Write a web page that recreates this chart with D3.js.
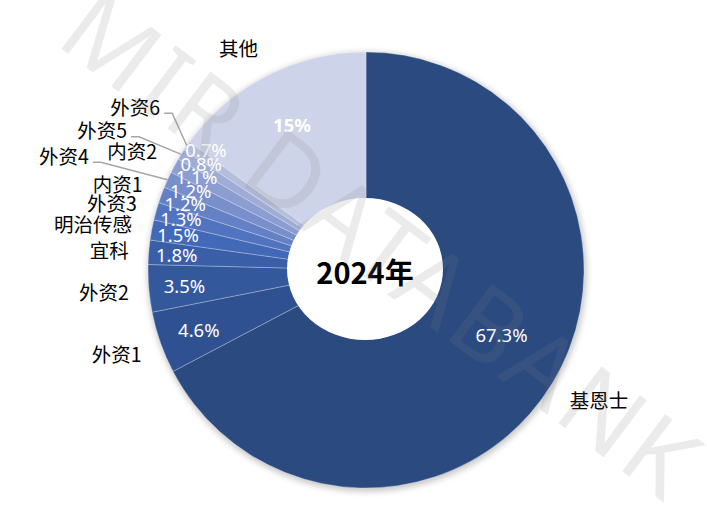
<!DOCTYPE html>
<html><head><meta charset="utf-8">
<script src="https://cdn.jsdelivr.net/npm/d3@7"></script>
<style>body{margin:0;background:#fff}svg{display:block}</style></head>
<body>
<svg id="c" width="707" height="518"></svg>
<script>
// ---- data ----
const categories = ["基恩士","外资1","外资2","宜科","明治传感","外资3","内资1","外资4","内资2","外资5","外资6","其他"];
const shares = [67.3,4.6,3.5,1.8,1.5,1.3,1.2,1.2,1.1,0.8,0.7,15];
const shareLabels = ["67.3%","4.6%","3.5%","1.8%","1.5%","1.3%","1.2%","1.2%","1.1%","0.8%","0.7%","15%"];
const sliceColors = ["#2b4a80","#2f5191","#33589c","#3a5fa8","#4169b8","#5174c0","#6581c6","#788fcb","#8c9ed1","#9facd6","#b3bddc","#cdd3e8"];
const centerLabel = "2024年";
const watermark = "MIR DATABANK";

// ---- layout ----
const W = 707, H = 518, cx = 366, cy = 270, R = 218;
const holeRx = 78, holeRy = 71;
const nameR = 238;
// labels moved out with leader lines: [radius, angle in degrees]
const leaderPlacement = {"外资4":[300,292.5],"外资5":[277,300.4],"外资6":[263,308.5]};

const svg = d3.select("#c");
const defs = svg.append("defs");
const f = defs.append("filter").attr("id","sh").attr("x","-20%").attr("y","-20%").attr("width","140%").attr("height","140%");
f.append("feGaussianBlur").attr("stdDeviation",3);

const data = categories.map((c,i)=>({cat:c, v:shares[i], lab:shareLabels[i], col:sliceColors[i]}));
const pie = d3.pie().value(d=>d.v).sort(null);
const arcs = pie(data);
const arc = d3.arc().innerRadius(0).outerRadius(R);
const polar = (r,a)=>[cx + r*Math.sin(a), cy - r*Math.cos(a)];

const g = svg.append("g");
// shadow
g.append("circle").attr("cx",cx+1).attr("cy",cy+2).attr("r",R+1.5)
  .attr("fill","#000").attr("opacity",0.22).attr("filter","url(#sh)");

g.append("g").attr("transform",`translate(${cx},${cy})`)
 .selectAll("path").data(arcs).join("path")
 .attr("d",arc).attr("fill",d=>d.data.col)
 .attr("stroke","rgba(255,255,255,0.35)").attr("stroke-width",0.8);

// hole
g.append("ellipse").attr("cx",cx-1).attr("cy",cy-1).attr("rx",holeRx).attr("ry",holeRy).attr("fill","#fff");

g.append("text").attr("x",cx-1).attr("y",cy+1).attr("text-anchor","middle").attr("dominant-baseline","central")
 .attr("font-family","'Noto Sans CJK SC','Noto Sans',sans-serif").attr("font-weight","bold")
 .attr("font-size",29).attr("fill","#000").text(centerLabel);

// percent labels
const pct = arcs.map(d=>{
  const a = (d.startAngle+d.endAngle)/2;
  let r, sh = 0;
  if (d.data.v >= 10) { r = d.data.v > 50 ? 150 : 163; sh = d.data.v > 50 ? -0.1 : 0; }
  else r = 198 - 4.5*d.data.v;
  const p = polar(r, a+sh);
  return {d, x:p[0], y:p[1]};
});
// vertical spacing for small slices on the left (bottom to top)
const small = pct.filter(p=>p.d.data.v<10);
for (let i=1;i<small.length;i++){
  if (small[i-1].y - small[i].y < 13.5) small[i].y = small[i-1].y - 13.5;
}
g.append("g").selectAll("text").data(pct).join("text")
 .attr("x",p=>p.x).attr("y",p=>p.y).attr("text-anchor","middle").attr("dominant-baseline","central")
 .attr("font-family","'Noto Sans','Noto Sans CJK SC',sans-serif").attr("font-size",18.5)
 .attr("font-weight",p=>p.d.data.cat==="其他"?"bold":"normal")
 .attr("fill","#fff").text(p=>p.d.data.lab);

// name labels
const nameG = g.append("g").attr("font-family","'Noto Sans CJK SC',sans-serif").attr("font-size",19.5).attr("fill","#000");
arcs.forEach(d=>{
  const a = (d.startAngle+d.endAngle)/2;
  let x,y, lead = leaderPlacement[d.data.cat];
  if (lead){
    [x,y] = polar(lead[0], lead[1]*Math.PI/180);
    const e = polar(R, a);
    g.append("polyline").attr("points",[[x+4,y+7],[x+12,y+7],e].map(p=>p.join(",")).join(" "))
     .attr("fill","none").attr("stroke","#a6a6a6").attr("stroke-width",1.5);
  } else {
    [x,y] = polar(nameR, a);
    y -= Math.cos(a)*12;
  }
  nameG.append("text").attr("x",x).attr("y",y).attr("dominant-baseline","central")
   .attr("text-anchor", x<cx ? "end" : "start").text(d.data.cat);
});

// watermark
svg.append("text").attr("transform","translate(384,243) rotate(37)")
 .attr("text-anchor","middle").attr("dominant-baseline","central")
 .attr("font-family","'Noto Sans',sans-serif").attr("font-size",100).attr("letter-spacing",4)
 .attr("fill","#808080").attr("opacity",0.15).text(watermark);
</script>
</body></html>
